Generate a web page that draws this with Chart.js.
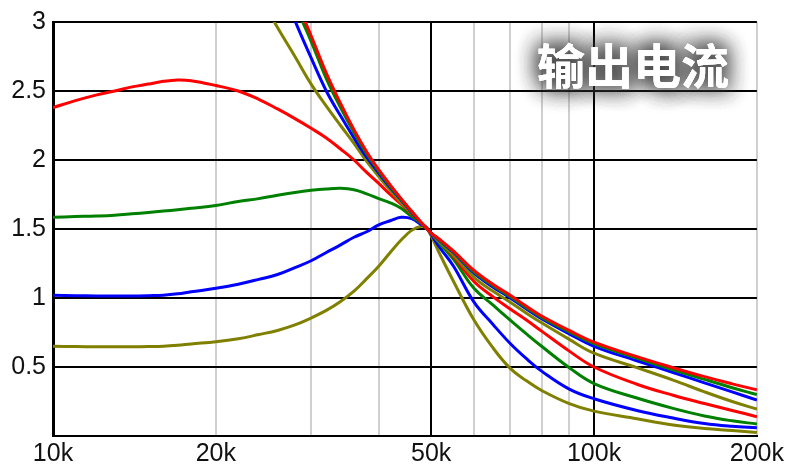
<!DOCTYPE html>
<html>
<head>
<meta charset="utf-8">
<script src="https://cdn.jsdelivr.net/npm/chart.js@4.4.1/dist/chart.umd.min.js"></script>
<style>
    html, body { margin: 0; padding: 0; background: #ffffff; }
    #wrap { width: 787px; height: 464px; }
</style>
</head>
<body>
<div id="wrap"><canvas id="current_chart" width="787" height="464"></canvas></div>
<script>
// frequencies in kHz
const freq_low = [10, 11, 12, 13, 14, 15, 16, 17, 18, 20, 22, 24, 26, 28, 30, 32, 34, 36, 38, 40, 42, 44, 46, 48, 49, 50, 52, 55, 60, 65, 70, 75, 80, 90, 100, 120, 140, 160, 180, 200];
const freq_high = [24, 26, 28, 30, 32, 34, 36, 38, 40, 42, 44, 46, 48, 49, 50, 52, 55, 60, 65, 70, 75, 80, 90, 100, 120, 140, 160, 180, 200];

// curves starting on the left of the plot
const red_low = [2.38, 2.43, 2.47, 2.50, 2.53, 2.55, 2.57, 2.58, 2.575, 2.54, 2.50, 2.44, 2.37, 2.30, 2.23, 2.16, 2.08, 2.00, 1.91, 1.83, 1.75, 1.68, 1.61, 1.54, 1.51, 1.47, 1.41, 1.30, 1.12, 1.01, 0.92, 0.84, 0.76, 0.615, 0.50, 0.375, 0.295, 0.235, 0.185, 0.14];
const green_low = [1.585, 1.59, 1.594, 1.60, 1.61, 1.62, 1.63, 1.64, 1.65, 1.67, 1.70, 1.72, 1.745, 1.765, 1.78, 1.79, 1.795, 1.785, 1.755, 1.72, 1.69, 1.65, 1.59, 1.54, 1.51, 1.47, 1.39, 1.28, 1.07, 0.95, 0.84, 0.74, 0.65, 0.495, 0.38, 0.275, 0.20, 0.145, 0.11, 0.087];
const blue_low = [1.02, 1.017, 1.015, 1.015, 1.015, 1.017, 1.02, 1.03, 1.045, 1.07, 1.10, 1.135, 1.17, 1.22, 1.27, 1.33, 1.385, 1.44, 1.48, 1.53, 1.56, 1.585, 1.575, 1.53, 1.51, 1.46, 1.36, 1.23, 0.97, 0.81, 0.67, 0.56, 0.47, 0.34, 0.27, 0.185, 0.13, 0.09, 0.07, 0.06];
const olive_low = [0.65, 0.648, 0.647, 0.647, 0.647, 0.648, 0.65, 0.657, 0.667, 0.683, 0.705, 0.735, 0.765, 0.805, 0.855, 0.91, 0.975, 1.05, 1.14, 1.23, 1.33, 1.42, 1.49, 1.52, 1.505, 1.45, 1.31, 1.12, 0.84, 0.64, 0.49, 0.40, 0.33, 0.235, 0.18, 0.125, 0.08, 0.055, 0.04, 0.025];

// curves coming down from above the top edge
const red_high = [3.9, 3.5, 3.18, 2.9, 2.63, 2.41, 2.22, 2.06, 1.93, 1.82, 1.72, 1.63, 1.545, 1.505, 1.47, 1.42, 1.34, 1.20, 1.10, 1.02, 0.94, 0.87, 0.765, 0.68, 0.575, 0.495, 0.43, 0.378, 0.335];
const green_high = [3.85, 3.45, 3.13, 2.86, 2.59, 2.38, 2.20, 2.045, 1.92, 1.81, 1.715, 1.625, 1.54, 1.505, 1.47, 1.415, 1.335, 1.19, 1.09, 1.01, 0.93, 0.86, 0.755, 0.67, 0.565, 0.48, 0.41, 0.35, 0.30];
const blue_high = [3.7, 3.33, 3.01, 2.74, 2.50, 2.32, 2.16, 2.02, 1.905, 1.80, 1.71, 1.62, 1.54, 1.505, 1.47, 1.41, 1.33, 1.18, 1.08, 1.00, 0.92, 0.85, 0.74, 0.65, 0.545, 0.46, 0.385, 0.32, 0.26];
const olive_high = [3.2, 2.96, 2.75, 2.55, 2.39, 2.25, 2.12, 1.99, 1.88, 1.78, 1.69, 1.615, 1.54, 1.505, 1.465, 1.40, 1.31, 1.15, 1.05, 0.97, 0.89, 0.82, 0.70, 0.60, 0.495, 0.405, 0.32, 0.25, 0.195];

const x_ticks = [10, 20, 30, 40, 50, 60, 70, 80, 90, 100, 200];
const x_labels = [10, 20, 50, 100, 200];
const x_major = [50, 100];
const title_text = '输出电流';

const tick_font = { family: "'Liberation Sans Narrow', 'Arial Narrow', 'Liberation Sans', Arial, sans-serif", size: 25 };

function make_set(xs, ys, color) {
    return {
        data: xs.map((x, i) => ({ x: x, y: ys[i] })),
        borderColor: color,
        borderWidth: 3,
        pointRadius: 0,
        fill: false,
        tension: 0.4
    };
}

const title_plugin = {
    id: 'title_glow',
    afterDraw(chart) {
        const ctx = chart.ctx;
        ctx.save();
        ctx.font = "bold 48px 'Noto Sans CJK SC', sans-serif";
        ctx.textAlign = 'center';
        ctx.textBaseline = 'middle';
        ctx.fillStyle = '#ffffff';
        ctx.shadowColor = 'rgba(60,60,60,0.9)';
        ctx.shadowBlur = 22;
        for (let i = 0; i < 3; i++) {
            ctx.fillText(title_text, 633, 66);
        }
        ctx.shadowBlur = 0;
        ctx.fillText(title_text, 633, 66);
        ctx.restore();
    }
};

window.onload = function() {
    const ctx = document.getElementById('current_chart').getContext('2d');

    const chart = new Chart(ctx, {
        type: 'line',
        data: {
            datasets: [
                make_set(freq_high, red_high, '#ff0000'),
                make_set(freq_high, green_high, '#008000'),
                make_set(freq_high, blue_high, '#0000ff'),
                make_set(freq_high, olive_high, '#808000'),
                make_set(freq_low, red_low, '#ff0000'),
                make_set(freq_low, green_low, '#008000'),
                make_set(freq_low, blue_low, '#0000ff'),
                make_set(freq_low, olive_low, '#808000')
            ]
        },
        options: {
            responsive: false,
            animation: false,
            devicePixelRatio: 1,
            layout: { padding: { top: 22, right: 27, left: 0, bottom: 0 } },
            plugins: {
                legend: { display: false },
                tooltip: { enabled: false },
                title: { display: false }
            },
            scales: {
                x: {
                    type: 'logarithmic',
                    min: 10,
                    max: 200,
                    afterBuildTicks: (scale) => {
                        scale.ticks = x_ticks.map(v => ({ value: v }));
                    },
                    afterFit: (scale) => { scale.height = 28; },
                    ticks: {
                        autoSkip: false,
                        maxRotation: 0,
                        padding: 3,
                        color: '#111111',
                        font: tick_font,
                        callback: (value) => x_labels.includes(value) ? value + 'k' : ''
                    },
                    grid: {
                        drawTicks: false,
                        color: (c) => x_major.includes(c.tick && c.tick.value) ? '#000000' : '#d0d0d0',
                        lineWidth: 2
                    },
                    border: { color: '#000000', width: 2 }
                },
                y: {
                    min: 0,
                    max: 3,
                    afterFit: (scale) => { scale.width = 53; },
                    ticks: {
                        stepSize: 0.5,
                        padding: 7,
                        color: '#111111',
                        font: tick_font,
                        callback: (value) => value === 0 ? '' : value
                    },
                    grid: {
                        drawTicks: false,
                        color: '#000000',
                        lineWidth: 2
                    },
                    border: { color: '#000000', width: 3 }
                }
            }
        },
        plugins: [title_plugin]
    });
};
</script>
</body>
</html>
